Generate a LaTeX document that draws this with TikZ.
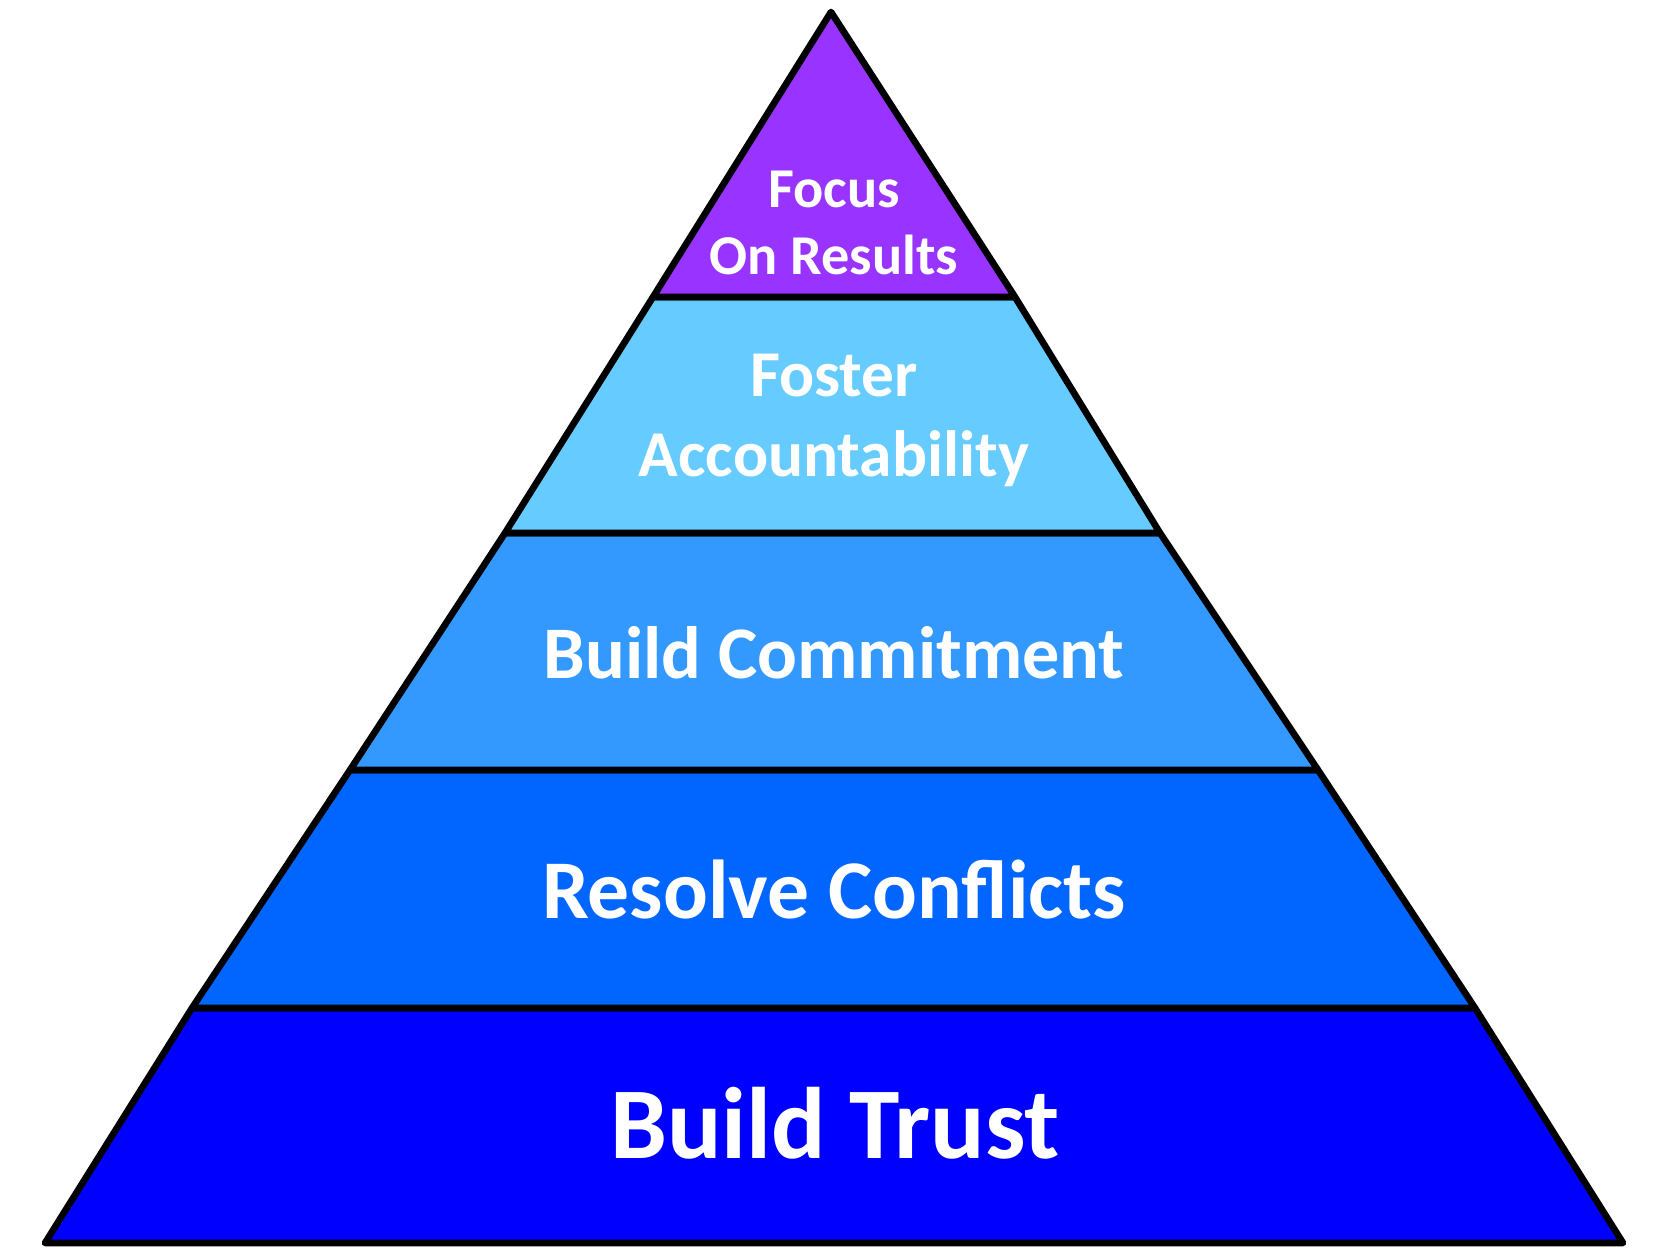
\documentclass[tikz,border=0pt]{standalone}
\usepackage{fontspec}
\setmainfont{Carlito}
\definecolor{tierA}{HTML}{9933FF}
\definecolor{tierB}{HTML}{66CCFF}
\definecolor{tierC}{HTML}{3399FF}
\definecolor{tierD}{HTML}{0066FF}
\definecolor{tierE}{HTML}{0000FF}
\begin{document}
\begin{tikzpicture}[x=0.01cm, y=-0.01cm,
  layer/.style={draw=black, line width=1.9pt, line join=round},
  lbl/.style={text=white, align=center, inner sep=0pt, anchor=base}]
  \useasboundingbox (0,0) rectangle (1676,1255);
  % tiers, bottom to top
  % t5: Build Trust
  \draw[layer, fill=tierE] (192,1008) -- (1475,1008) -- (1623,1243) -- (45,1243) -- cycle;
  % t4: Resolve Conflicts
  \draw[layer, fill=tierD] (350,770) -- (1318,770) -- (1475,1008) -- (192,1008) -- cycle;
  % t3: Build Commitment
  \draw[layer, fill=tierC] (505,533) -- (1160,533) -- (1318,770) -- (350,770) -- cycle;
  % t2: Foster Accountability
  \draw[layer, fill=tierB] (653,297) -- (1015,297) -- (1160,533) -- (505,533) -- cycle;
  % t1: Focus On Results
  \draw[layer, fill=tierA] (831,12) -- (1015,297) -- (653,297) -- cycle;
  % Labels (base = last line)
  \node[lbl, font=\fontsize{28.9}{34}\selectfont\bfseries] (trust) at (835,1158) {Build Trust};
  \node[lbl, font=\fontsize{23.75}{28}\selectfont\bfseries] (conflicts) at (834,918) {Resolve Conflicts};
  \node[lbl, font=\fontsize{21.1}{25}\selectfont\bfseries] (commit) at (834,678) {Build Commitment};
  \node[lbl, font=\fontsize{18.6}{22.6}\selectfont\bfseries] (account) at (834,476) {Foster\\Accountability};
  \node[lbl, font=\fontsize{16}{19.3}\selectfont\bfseries] (results) at (834,275) {Focus\\On Results};
\end{tikzpicture}
\end{document}
